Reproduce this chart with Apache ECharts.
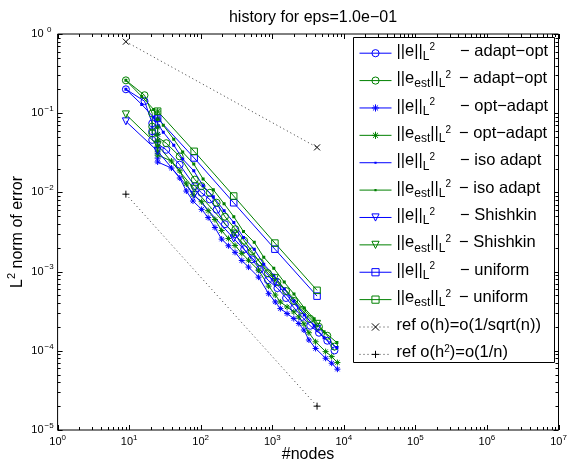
<!DOCTYPE html>
<html><head><meta charset="utf-8">
<script src="https://cdn.jsdelivr.net/npm/echarts@6/dist/echarts.min.js"></script>
<style>html,body{margin:0;padding:0;background:#fff}#c{width:567px;height:462px}</style>
</head><body><div id="c"></div>
<script>
const FONT = '"Liberation Sans", Arial, Helvetica, sans-serif';

// ---------------- data ----------------
const methods = ['adapt-opt', 'opt-adapt', 'iso adapt', 'Shishkin', 'uniform'];

const nAdaptOpt = [9, 16.4, 21, 21, 21, 33, 50.8, 82.6, 102.6, 134, 167, 218, 305, 405, 518, 671, 870, 1180, 1559, 2020, 2617, 3390, 4494, 5880, 7400];
const eAdaptOpt = [0.2004, 0.1419, 0.0745, 0.0592, 0.0460, 0.0345, 0.0224, 0.0120, 0.00989, 0.00815, 0.00605, 0.00396, 0.00297, 0.00192, 0.00143, 0.00107, 0.000780, 0.000619, 0.000464, 0.000348, 0.000268, 0.000207, 0.000169, 0.000134, 0.000101];
const estAdaptOpt = [0.260, 0.1686, 0.0994, 0.0677, 0.0558, 0.0418, 0.0285, 0.0145, 0.0120, 0.00989, 0.00741, 0.00494, 0.00343, 0.00245, 0.00180, 0.00131, 0.000955, 0.000736, 0.000568, 0.000426, 0.000328, 0.000253, 0.000201, 0.000155, 0.000113];

const nOptAdapt = [25, 25, 25, 25, 25, 25, 25, 25, 39, 51, 63, 78, 103, 127, 158, 196, 244, 302, 375, 466, 644, 890, 1102, 1297, 1611, 2000, 2350, 2766, 3250, 4030, 5565, 6760, 8130];
const eOptAdapt = [0.0861, 0.0684, 0.0542, 0.0443, 0.0373, 0.0313, 0.0271, 0.0242, 0.0203, 0.0152, 0.0104, 0.00778, 0.00611, 0.00481, 0.00360, 0.00257, 0.00212, 0.00175, 0.00138, 0.00114, 0.000851, 0.000526, 0.000414, 0.000341, 0.000295, 0.000255, 0.000221, 0.000183, 0.000137, 0.000107, 0.0000805, 0.0000697, 0.0000586];
const estOptAdapt = [0.1062, 0.0836, 0.0664, 0.0542, 0.0456, 0.0384, 0.0332, 0.0296, 0.0249, 0.0187, 0.0128, 0.00933, 0.00762, 0.00588, 0.00454, 0.00330, 0.00262, 0.00214, 0.00170, 0.00139, 0.00104, 0.000656, 0.000506, 0.000414, 0.000358, 0.000310, 0.000268, 0.000219, 0.000169, 0.000130, 0.0000977, 0.0000845, 0.0000711];

const nIso = [9, 15, 22, 30, 42, 56, 80, 108, 150, 212, 290, 396, 560, 760, 1050, 1470, 2010, 2800, 3850, 5300, 8000];
const eIso = [0.2004, 0.1289, 0.0886, 0.0575, 0.0395, 0.0264, 0.0187, 0.0121, 0.00881, 0.00588, 0.00416, 0.00270, 0.00191, 0.00124, 0.000901, 0.000602, 0.000426, 0.000284, 0.000207, 0.000146, 0.000110];
const estIso = [0.260, 0.1623, 0.1116, 0.0703, 0.0469, 0.0323, 0.0228, 0.0148, 0.0108, 0.00720, 0.00494, 0.00321, 0.00234, 0.00152, 0.00110, 0.000737, 0.000521, 0.000348, 0.000253, 0.000174, 0.000127];

const nShishkin = [9, 25, 81, 289, 1089, 4225];
const eShishkin = [0.0789, 0.0332, 0.00933, 0.00262, 0.000736, 0.000190];
const estShishkin = [0.0966, 0.0395, 0.0111, 0.00303, 0.000826, 0.000219];

const nUniform = [25, 81, 289, 1089, 4225];
const eUniform = [0.086, 0.0272, 0.0074, 0.00192, 0.00049];
const estUniform = [0.106, 0.033, 0.009, 0.00229, 0.00058];

const nRef = [9, 4225];
const ref1 = [0.8, 0.037];      // o(h) = o(1/sqrt(n))
const ref2 = [0.0095, 0.000020]; // o(h^2) = o(1/n)

const xMajorTicks = [1, 10, 100, 1e3, 1e4, 1e5, 1e6, 1e7];
const yMajorTicks = [1e-5, 1e-4, 1e-3, 1e-2, 1e-1, 1];

// ---------------- styling ----------------
const BLUE = '#0000ff', GREEN = '#008000', BLACK = '#000000';
const SYM = {
  circle: 'circle',
  star: 'path://M5,0L5,10M0,5L10,5M1.46,1.46L8.54,8.54M8.54,1.46L1.46,8.54',
  dot: 'path://M0,0L0.01,0L0,0.01Z M10,10L9.99,10L10,9.99Z M3.5,3.5L6.5,3.5L6.5,6.5L3.5,6.5Z',
  tri: 'path://M0,0L10,0L5,8.66Z',
  rect: 'rect',
  x: 'path://M0,0L10,10M10,0L0,10',
  plus: 'path://M5,0L5,10M0,5L10,5'
};

function mk(name, ns, vs, color, symbol, size, extra) {
  const s = {
    name, type: 'line', data: ns.map((n, i) => [n, vs[i]]),
    symbol, symbolSize: size, showSymbol: true,
    lineStyle: { color, width: 1 },
    itemStyle: { color: 'rgba(0,0,0,0)', borderColor: color, borderWidth: 1 },
    emphasis: { disabled: true }, animation: false, z: 2
  };
  return Object.assign(s, extra || {});
}

const series = [
  mk('e:adapt-opt', nAdaptOpt, eAdaptOpt, BLUE, SYM.circle, 7),
  mk('est:adapt-opt', nAdaptOpt, estAdaptOpt, GREEN, SYM.circle, 7),
  mk('e:opt-adapt', nOptAdapt, eOptAdapt, BLUE, SYM.star, 6),
  mk('est:opt-adapt', nOptAdapt, estOptAdapt, GREEN, SYM.star, 6),
  mk('e:iso adapt', nIso, eIso, BLUE, SYM.dot, 10, { itemStyle: { color: BLUE, borderWidth: 0 } }),
  mk('est:iso adapt', nIso, estIso, GREEN, SYM.dot, 10, { itemStyle: { color: GREEN, borderWidth: 0 } }),
  mk('e:Shishkin', nShishkin, eShishkin, BLUE, SYM.tri, 7),
  mk('est:Shishkin', nShishkin, estShishkin, GREEN, SYM.tri, 7),
  mk('e:uniform', nUniform, eUniform, BLUE, SYM.rect, 6.5),
  mk('est:uniform', nUniform, estUniform, GREEN, SYM.rect, 6.5),
  mk('ref1', nRef, ref1, BLACK, SYM.x, 6, { lineStyle: { color: '#333', width: 1, type: [1, 3] } }),
  mk('ref2', nRef, ref2, BLACK, SYM.plus, 7, { lineStyle: { color: '#333', width: 1, type: [1, 3] } })
];

// tick marks (axis decoration) on all four sides
const xTickList = [], yTickList = [];
xMajorTicks.forEach((v, i) => { xTickList.push([v, 1]); if (i < xMajorTicks.length - 1) for (let m = 2; m <= 9; m++) xTickList.push([v * m, 0]); });
yMajorTicks.forEach((v, i) => { yTickList.push([v, 1]); if (i < yMajorTicks.length - 1) for (let m = 2; m <= 9; m++) yTickList.push([v * m, 0]); });

series.push({
  type: 'custom', name: 'ticks', silent: true, animation: false, z: 3, clip: false,
  data: [[10, 0.01]],
  renderItem(params, api) {
    const cs = params.coordSys;
    const L = cs.x, R = cs.x + cs.width, T = cs.y, B = cs.y + cs.height;
    const ch = [];
    const seg = (x1, y1, x2, y2) => ch.push({ type: 'line', shape: { x1, y1, x2, y2 }, style: { stroke: '#000', lineWidth: 1 } });
    xTickList.forEach(([v, maj]) => {
      const x = Math.round(api.coord([v, 1])[0]) + 0.5; const len = maj ? 5 : 3;
      seg(x, B, x, B - len); seg(x, T, x, T + len);
    });
    yTickList.forEach(([v, maj]) => {
      const y = Math.round(api.coord([10, v])[1]) + 0.5; const len = maj ? 5 : 3;
      seg(L, y, L + len, y); seg(R, y, R - len, y);
    });
    return { type: 'group', children: ch };
  }
});

// legend labels (rich text with sub/superscripts)
const SUB = { fontSize: 12, lineHeight: 20, padding: [7, 0, 0, 0], fontFamily: FONT, color: '#000' };
const SUP = { fontSize: 10, lineHeight: 20, padding: [0, 0, 11, 0], fontFamily: FONT, color: '#000' };
function legendLabel(name) {
  if (name === 'ref1') return '{m|ref o(h)=o(1/sqrt(n))}';
  if (name === 'ref2') return '{m|ref o(h}{sp|2}{m|)=o(1/n)}';
  const [kind, m] = name.split(':');
  const meth = m.replace('-', '\u2212');
  if (kind === 'e') return '{m|||e||}{sb|L}{sp|2}{g1| }{m|\u2212 ' + meth + '}';
  return '{m|||e}{sb|est}{m|||}{sb|L}{sp|2}{g2| }{m|\u2212 ' + meth + '}';
}

const legendNames = series.filter(s => s.type === 'line').map(s => s.name);
const legendData = legendNames.map(n => (n.indexOf('iso') >= 0 ? { name: n, itemStyle: { borderWidth: 0 } } : { name: n }));

function expLabel(v) {
  const k = Math.round(Math.log10(v));
  return '{b|10}{e|' + (k < 0 ? '\u2212' + (-k) : String(k)) + '}';
}

const chart = echarts.init(document.getElementById('c'), null, { renderer: 'canvas' });
chart.setOption({
  backgroundColor: '#fff',
  animation: false,
  title: {
    text: 'history for eps=1.0e\u221201', left: 308, top: 5, textAlign: 'center',
    textStyle: { fontFamily: FONT, fontSize: 16, fontWeight: 'normal', color: '#000' }
  },
  grid: { left: 57.6, right: 8.5, top: 34, bottom: 32, show: true, borderColor: '#000', borderWidth: 1, containLabel: false, outerBoundsMode: 'none' },
  xAxis: {
    type: 'log', logBase: 10, min: 1, max: 1e7, interval: 1,
    name: '#nodes', nameLocation: 'middle', nameGap: 17, nameMoveOverlap: false,
    nameTextStyle: { fontFamily: FONT, fontSize: 16, color: '#000', verticalAlign: 'top', lineHeight: 16 },
    axisLine: { show: false }, axisTick: { show: false }, splitLine: { show: false }, minorTick: { show: false },
    axisLabel: {
      margin: 5, formatter: expLabel, color: '#000', hideOverlap: false,
      rich: {
        b: { fontFamily: FONT, fontSize: 11, color: '#000', lineHeight: 14 },
        e: { fontFamily: FONT, fontSize: 8, color: '#000', lineHeight: 14, padding: [0, 0, 9, 0] }
      }
    }
  },
  yAxis: {
    type: 'log', logBase: 10, min: 1e-5, max: 1, interval: 1,
    name: '{n|L}{s|2}{n| norm of error}', nameLocation: 'middle', nameGap: 30, nameMoveOverlap: false,
    nameTextStyle: {
      fontFamily: FONT, fontSize: 16, color: '#000',
      rich: {
        n: { fontFamily: FONT, fontSize: 16, color: '#000', lineHeight: 20 },
        s: { fontFamily: FONT, fontSize: 11, color: '#000', lineHeight: 20, padding: [0, 0, 11, 0] }
      }
    },
    axisLine: { show: false }, axisTick: { show: false }, splitLine: { show: false }, minorTick: { show: false },
    axisLabel: {
      margin: 3, formatter: expLabel, color: '#000', hideOverlap: false,
      rich: {
        b: { fontFamily: FONT, fontSize: 11, color: '#000', lineHeight: 14 },
        e: { fontFamily: FONT, fontSize: 8, color: '#000', lineHeight: 14, padding: [0, 0, 9, 0], width: 11, align: 'left' }
      }
    }
  },
  legend: {
    show: true, orient: 'vertical', left: 359, top: 42.7, padding: 0, itemGap: 6.38,
    itemWidth: 32, itemHeight: 9, selectedMode: false, z: 10,
    data: legendData,
    lineStyle: { width: 1 },
    itemStyle: { borderWidth: 1 },
    formatter: legendLabel,
    textStyle: {
      fontFamily: FONT, fontSize: 16.5, color: '#000',
      rich: {
        m: { fontFamily: FONT, fontSize: 16.5, color: '#000', lineHeight: 20, padding: [0, 0, 4, 0] },
        sb: SUB, sp: SUP,
        g1: { fontSize: 16, lineHeight: 20, width: 25 },
        g2: { fontSize: 16, lineHeight: 20, width: 8 }
      }
    }
  },
  graphic: [{
    type: 'rect', z: 8, silent: true,
    shape: { x: 353.5, y: 37.5, width: 201, height: 325 },
    style: { fill: '#fff', stroke: '#000', lineWidth: 1 }
  }],
  series
});
</script></body></html>
